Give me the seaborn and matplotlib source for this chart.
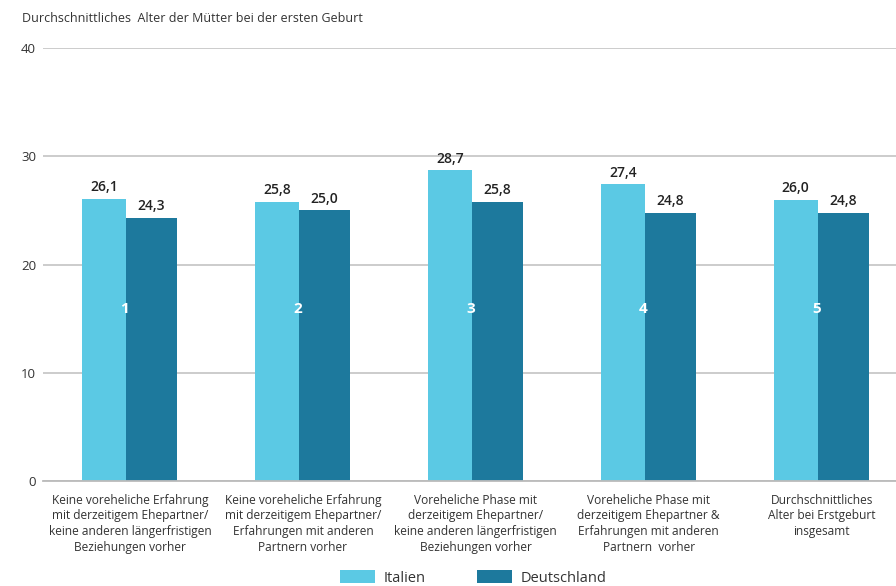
import matplotlib
matplotlib.use("Agg")
import matplotlib.pyplot as plt
import seaborn as sns
import pandas as pd
from matplotlib.patches import Patch

categories = [
    "Keine voreheliche Erfahrung\nmit derzeitigem Ehepartner/\nkeine anderen längerfristigen\nBeziehungen vorher",
    "Keine voreheliche Erfahrung\nmit derzeitigem Ehepartner/\nErfahrungen mit anderen\nPartnern vorher",
    "Voreheliche Phase mit\nderzeitigem Ehepartner/\nkeine anderen längerfristigen\nBeziehungen vorher",
    "Voreheliche Phase mit\nderzeitigem Ehepartner &\nErfahrungen mit anderen\nPartnern  vorher",
    "Durchschnittliches\nAlter bei Erstgeburt\ninsgesamt",
]
numbers = ["1", "2", "3", "4", "5"]
italien = [26.1, 25.8, 28.7, 27.4, 26.0]
deutschland = [24.3, 25.0, 25.8, 24.8, 24.8]
series = ["Italien", "Deutschland"]
colors = {"Italien": "#5bc9e4", "Deutschland": "#1d799d"}
title = "Durchschnittliches  Alter der Mütter bei der ersten Geburt"
yticks = [0, 10, 20, 30, 40]

sns.set_style("white")
plt.rcParams["font.family"] = ["Open Sans", "DejaVu Sans"]

df = pd.DataFrame({
    "cat": categories * 2,
    "val": italien + deutschland,
    "land": ["Italien"] * 5 + ["Deutschland"] * 5,
})

fig = plt.figure(figsize=(8.96, 5.86), dpi=100)
ax = fig.add_axes([0.048, 0.179, 0.952, 0.739])
sns.barplot(data=df, x="cat", y="val", hue="land", palette=colors,
            hue_order=series, order=categories, ax=ax, legend=False,
            errorbar=None, saturation=1)

# adjust bar geometry (Italien narrower, Deutschland wider)
geo = {"Italien": (-0.150, 0.254), "Deutschland": (0.124, 0.295)}
for cont, name in zip(ax.containers, series):
    off, w = geo[name]
    for i, p in enumerate(cont.patches):
        p.set_x(i + off - w / 2)
        p.set_width(w)
        p.set_linewidth(0)
        h = p.get_height()
        ax.text(i + off, h + 0.45, f"{h:.1f}".replace(".", ","),
                ha="center", va="bottom", fontsize=10, fontweight="semibold",
                color="#222222")

for i, n in enumerate(numbers):
    ax.text(i - 0.03, 15.9, n, ha="center", va="center", color="white",
            fontsize=11, fontweight="bold")

ax.set_ylim(0, 40)
ax.set_xlim(-0.503, 4.43)
ax.set_yticks(yticks)
ax.set_yticklabels([str(t) for t in yticks], fontsize=9.5, color="#333333")
ax.set_xticks(range(5))
ax.set_xticklabels(categories, fontsize=8.6, color="#333333", linespacing=1.27)
ax.tick_params(axis="y", length=0, pad=5)
ax.tick_params(axis="x", length=5, width=1, color="#bbbbbb", pad=4)
ax.yaxis.grid(True, color="#c8c8c8", linewidth=1.3)
ax.set_axisbelow(True)
for s in ["top", "right", "left"]:
    ax.spines[s].set_visible(False)
ax.spines["bottom"].set_color("#bbbbbb")
ax.spines["bottom"].set_linewidth(1.3)
ax.set_xlabel("")
ax.set_ylabel("")

fig.text(22 / 896, 1 - 18 / 586, title, fontsize=9, color="#333333",
         ha="left", va="center")

handles = [Patch(facecolor=colors[s], edgecolor="none", label=s) for s in series]
fig.legend(handles=handles, loc="center", bbox_to_anchor=(0.528, 0.014),
           ncol=2, frameon=False, fontsize=10.5, handlelength=2.4,
           handleheight=1.0, columnspacing=3.5, handletextpad=0.6,
           labelcolor="#333333")

fig.savefig("out.png", dpi=100)
